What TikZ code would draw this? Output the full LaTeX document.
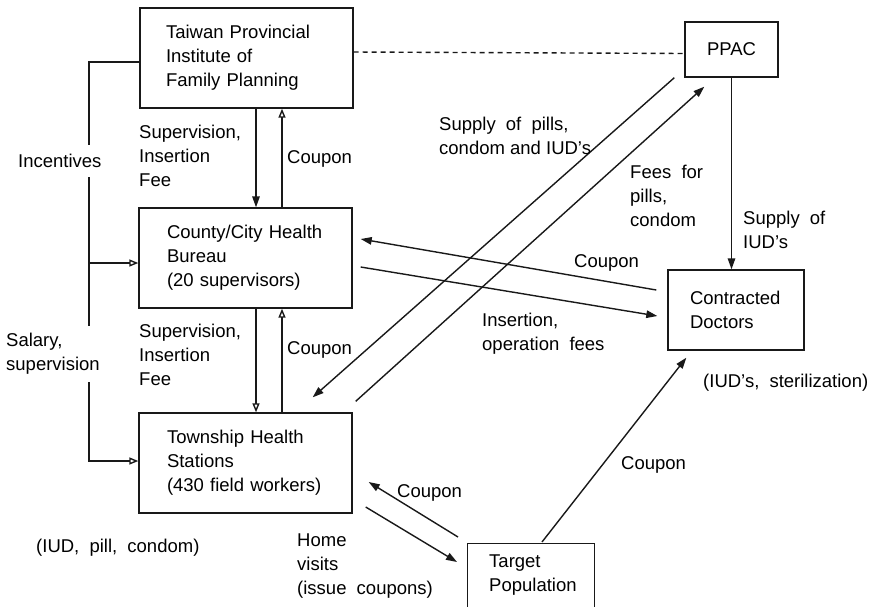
\documentclass[tikz,border=0pt]{standalone}
\usepackage{fontspec}
\setmainfont{Liberation Sans}
\usetikzlibrary{arrows.meta}
\newcommand\diagfont{\fontsize{18.5}{24}\selectfont\spaceskip=0.55em plus 0.1em\relax}
\newcommand\plainsp{\spaceskip=0pt\relax}
\begin{document}
\begin{tikzpicture}[x=1pt,y=-1pt,
  font=\diagfont,
  ln/.style={line width=1.4pt, draw=black!90},
  box/.style={draw=black!90, line width=1.4pt, inner ysep=0pt, align=left},
  lbl/.style={inner sep=0pt, align=left, anchor=west, text=black},
  fa/.style={-{Triangle[length=11pt,width=7.5pt]}},
  oa/.style={-{Triangle[open,length=9pt,width=7pt]}}]
\clip (0,0) rectangle (886,606);
\fill[white] (0,0) rectangle (886,606);
% boxes
\node[box, minimum width=213pt, minimum height=100pt, text width=161pt, inner xsep=26pt] (tp) at (246.5,58) {Taiwan Provincial\\Institute of\\Family Planning};
\node[box, minimum width=213pt, minimum height=100pt, text width=157pt, inner xsep=28pt] (cb) at (245.5,258) {County/City Health\\Bureau\\(20 supervisors)};
\node[box, minimum width=213pt, minimum height=100pt, text width=157pt, inner xsep=28pt] (th) at (245.5,463) {Township Health\\Stations\\(430 field workers)};
\node[box, minimum width=93pt, minimum height=55pt, align=center] (pp) at (731.5,49.5) {PPAC};
\node[box, minimum width=136pt, minimum height=80pt, text width=92pt, inner xsep=22pt] (cd) at (736,310) {Contracted\\Doctors};
\node[draw=black!90, line width=1.4pt, anchor=north west, minimum width=127pt, minimum height=100pt, inner sep=0pt] (tg) at (467,543) {};
\node[lbl] (tgt) at (489,575) {Target\\Population};
% dashed link
\draw[ln, dash pattern=on 5pt off 4pt] ([yshift=6pt]tp.east) -- ([yshift=-4pt]pp.west);
% incentive lines
\draw[ln, oa] ([yshift=-4pt]tp.west) -| (89,461) -- ([yshift=2pt]th.west);
\draw[ln, oa] (89,263) -- ([yshift=-5pt]cb.west);
\node[lbl, fill=white, inner ysep=9pt] (inc) at (18,161) {Incentives};
\node[lbl, fill=white, inner ysep=7pt] (sal) at (6,354) {Salary,\\supervision};
% vertical arrows
\draw[ln, fa] ([xshift=9.5pt]tp.south) -- ([xshift=10.5pt]cb.north);
\draw[ln, oa] ([xshift=36.5pt]cb.north) -- ([xshift=35.5pt]tp.south);
\draw[ln, oa] ([xshift=10.5pt]cb.south) -- ([xshift=10.5pt]th.north);
\draw[ln, oa] ([xshift=36.5pt]th.north) -- ([xshift=36.5pt]cb.south);
\node[lbl] (l1) at (139,156) {Supervision,\\Insertion\\Fee};
\node[lbl] (l2) at (287,159) {Coupon};
\node[lbl] (l3) at (139,355) {Supervision,\\Insertion\\Fee};
\node[lbl] (l4) at (287,350) {Coupon};
% diagonals with PPAC
\draw[ln, fa] ([shift={(-10,0)}]pp.south west) -- ([shift={(-40,-15)}]th.north east);
\draw[ln, fa] ([shift={(3,-11)}]th.north east) -- ([shift={(20,9)}]pp.south west);
\node[lbl] (l5) at (439,136) {Supply of pills,\\\plainsp condom and IUD's};
\node[lbl] (l6) at (630,196) {Fees for\\pills,\\condom};
% PPAC to doctors
\draw[ln, fa] (pp.south) -- (pp.south |- cd.north);
\node[lbl] (l7) at (743,230) {Supply of\\IUD's};
% bureau <-> doctors
\draw[ln, fa] ([shift={(-11,-20)}]cd.west) -- ([shift={(8,-19)}]cb.east);
\draw[ln, fa] ([shift={(8,9)}]cb.east) -- ([shift={(-10,6)}]cd.west);
\node[lbl] (l8) at (574,263) {Coupon};
\node[lbl] (l9) at (482,334) {Insertion,\\operation fees};
\node[lbl] (l10) at (703,383) {(IUD's, sterilization)};
% township <-> target
\draw[ln, fa] ([shift={(-9,-6)}]tg.north west) -- ([shift={(16,19)}]th.east);
\draw[ln, fa] ([shift={(13,44)}]th.east) -- ([shift={(-10,19)}]tg.north west);
\node[lbl] (l11) at (397,493) {Coupon};
\node[lbl] (l12) at (297,566) {Home\\visits\\(issue coupons)};
\node[lbl] (l13) at (36,548) {(IUD, pill, condom)};
% target -> doctors
\draw[ln, fa] ([shift={(75,-1)}]tg.north west) -- ([shift={(19,7)}]cd.south west);
\node[lbl] (l14) at (621,465) {Coupon};
\end{tikzpicture}
\end{document}
